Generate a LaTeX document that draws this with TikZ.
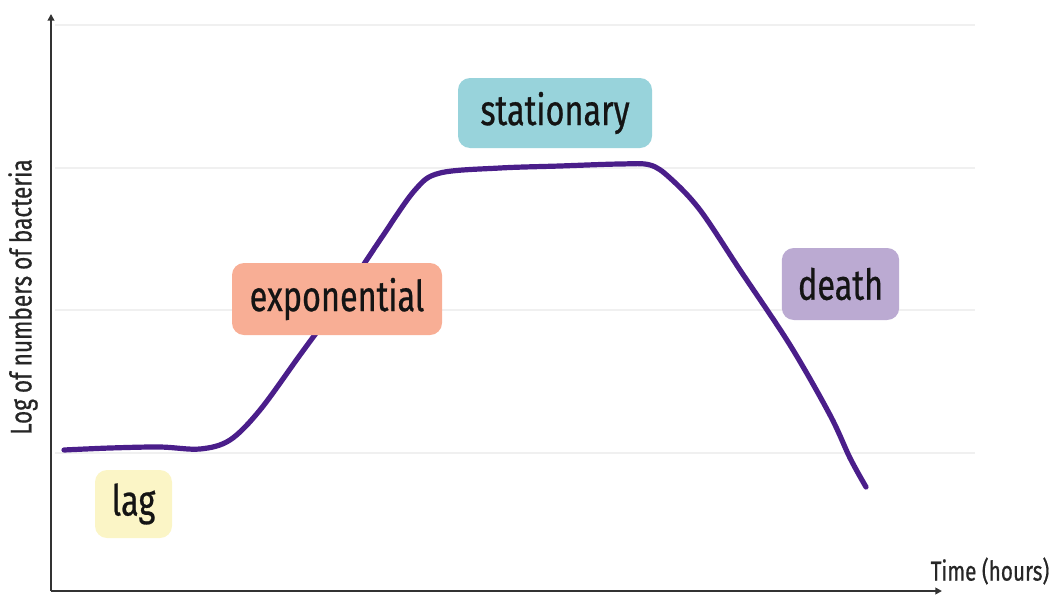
\documentclass[tikz,border=0pt]{standalone}
\usepackage{fontspec}
\setmainfont{Fira Sans}[FakeStretch=0.76]
\newfontfamily\phasefont{Fira Sans}[FakeStretch=0.76, FakeBold=0.6]
\usetikzlibrary{arrows.meta}
\definecolor{curve}{HTML}{4A1E8A}
\definecolor{lagc}{HTML}{FBF5C6}
\definecolor{expc}{HTML}{F8AE95}
\definecolor{statc}{HTML}{98D3DB}
\definecolor{deathc}{HTML}{BBAAD2}
\definecolor{gridc}{HTML}{F0F0F0}
\tikzset{
  phase/.style={rounded corners=9pt, inner sep=0pt, font=\phasefont\fontsize{32}{36}\selectfont, text=black!92},
  axis/.style={line width=1.4pt, draw=black!80, -{Triangle[length=5pt,width=5pt]}},
  gridline/.style={line width=0.9pt, draw=gridc},
  axlabel/.style={font=\phasefont\fontsize{20.5}{24}\selectfont, text=black!85}
}
\begin{document}
\begin{tikzpicture}[x=0.75pt,y=-0.75pt]
\useasboundingbox (0,0) rectangle (1055,596);
% horizontal guide lines
\foreach \gy in {25,168,310,453}
  \draw[gridline] (55,\gy) -- (975,\gy);
% axes
\coordinate (origin) at (51,591);
\coordinate (ytop) at (51,14);
\coordinate (xend) at (942,591);
\draw[axis] (origin) -- (ytop);
\draw[axis] (origin) -- (xend);
% growth curve
\draw[curve, line width=3.9pt, line cap=round, line join=round]
  plot[smooth, tension=0.55] coordinates {
    (64,450) (110,448) (160,447) (200,449) (230,440) (260,410) (300,355)
    (340,300) (380,240) (415,190) (440,173) (500,168) (560,166) (620,164)
    (650,165) (670,178) (700,210) (740,270) (790,345) (830,415) (850,458) (866,487)};
% phase labels
\node[phase, fill=lagc, minimum width=57.75pt, minimum height=51pt] (lag) at (133.5,504) {lag};
\node[phase, fill=expc, minimum width=157.5pt, minimum height=54pt] (exp) at (337,299) {exponential};
\node[phase, fill=statc, minimum width=145.5pt, minimum height=52.5pt] (stat) at (555,113) {stationary};
\node[phase, fill=deathc, minimum width=88pt, minimum height=54pt] (death) at (840.5,284) {death};
% axis labels
\node[axlabel, rotate=90, font=\phasefont\fontsize{22.3}{26}\selectfont] (ylab) at (23,297) {Log of numbers of bacteria};
\node[axlabel, anchor=west] (xlab) at (926,571) {Time (hours)};
\end{tikzpicture}
\end{document}
